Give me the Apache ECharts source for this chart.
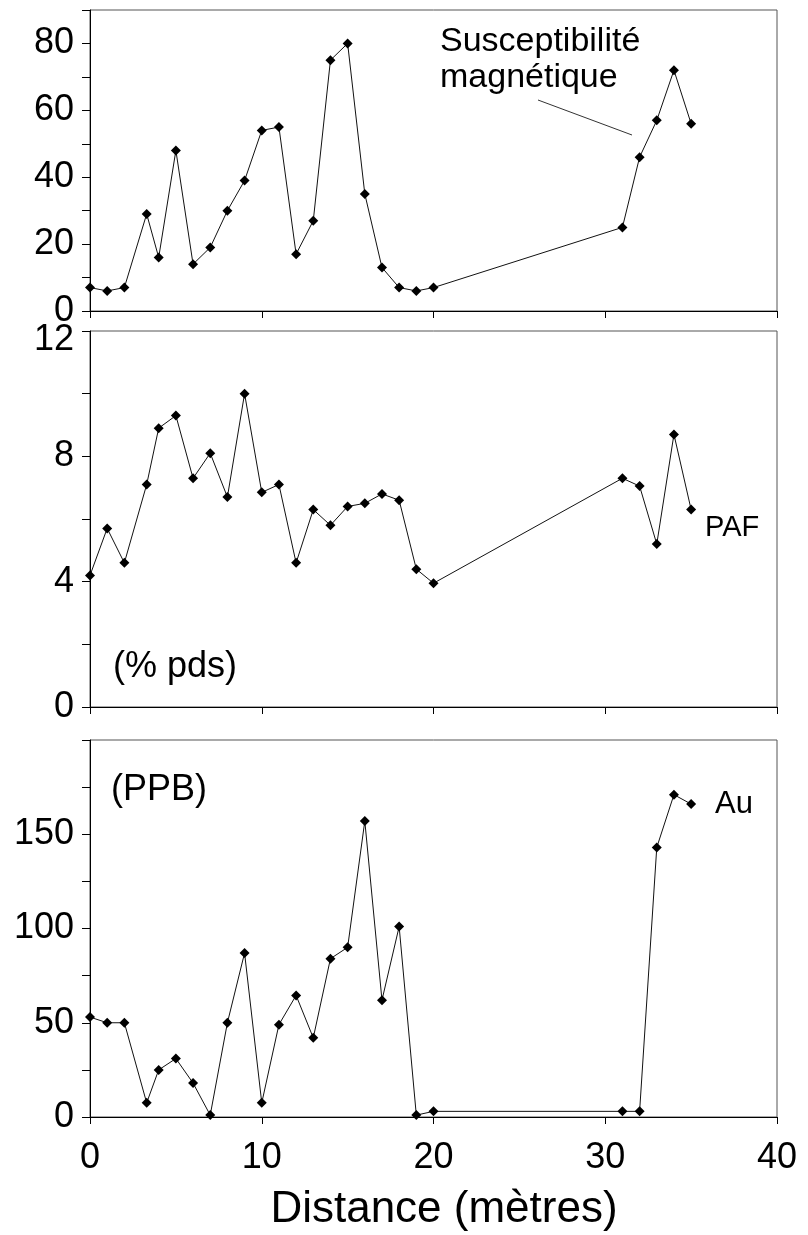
<!DOCTYPE html>
<html>
<head>
<meta charset="utf-8">
<title>Profil - distance</title>
<script src="https://cdn.jsdelivr.net/npm/echarts@6/dist/echarts.min.js"></script>
<style>html,body{margin:0;padding:0;background:#fff;}</style>
</head>
<body>
<div id="main" style="width:808px;height:1235px;"></div>
<script>
// distance le long du profil (m)
var distance = [0, 1, 2, 3.3, 4, 5, 6, 7, 8, 9, 10, 11, 12, 13, 14, 15, 16, 17, 18, 19, 20, 31, 32, 33, 34, 35];
// susceptibilite magnetique
var susceptibilite = [7, 6, 7, 29, 16, 48, 14, 19, 30, 39, 54, 55, 17, 27, 75, 80, 35, 13, 7, 6, 7, 25, 46, 57, 72, 56];
// PAF (% pds)
var paf = [4.2, 5.7, 4.6, 7.1, 8.9, 9.3, 7.3, 8.1, 6.7, 10.0, 6.85, 7.1, 4.6, 6.3, 5.8, 6.4, 6.5, 6.8, 6.6, 4.4, 3.95, 7.3, 7.05, 5.2, 8.7, 6.3];
// Au (PPB)
var au = [53, 50, 50, 7.5, 25, 31, 18, 1, 50, 87, 7.5, 49, 64.5, 42, 84, 90, 157, 62, 101, 1, 3, 3, 3, 143, 171, 166];

var FONT = 'Liberation Sans, Arial, sans-serif';

var myChart = echarts.init(document.getElementById('main'));

function pairs(ys) {
    var res = [];
    for (var i = 0; i < distance.length; i++) {
        res.push([distance[i], ys[i]]);
    }
    return res;
}

function xAxis(idx) {
    return {
        gridIndex: idx,
        type: 'value',
        min: 0, max: 40, interval: 10,
        axisLine: { show: true, onZero: false, lineStyle: { color: '#000', width: 1 } },
        axisTick: { show: true, length: 7, lineStyle: { color: '#000', width: 1 } },
        splitLine: { show: false },
        axisLabel: { show: idx === 2, margin: 23, fontSize: 36, fontFamily: FONT, color: '#000' },
        name: idx === 2 ? 'Distance (mètres)' : '',
        nameLocation: 'middle',
        nameGap: 71,
        nameTextStyle: { fontSize: 44, fontFamily: FONT, color: '#000', padding: [0, 0, 0, 21] }
    };
}

function yAxis(idx, max, interval, fmt) {
    return {
        gridIndex: idx,
        type: 'value',
        min: 0, max: max, interval: interval,
        axisLine: { show: true, lineStyle: { color: '#000', width: 1 } },
        axisTick: { show: true, length: 8, lineStyle: { color: '#000', width: 1 } },
        splitLine: { show: false },
        axisLabel: {
            margin: 16, fontSize: 36, fontFamily: FONT, color: '#000',
            formatter: fmt,
            rich: { low: { fontSize: 36, fontFamily: FONT, color: '#000', padding: [18, 0, 0, 0] } }
        }
    };
}

function serie(idx, ys) {
    return {
        type: 'line',
        xAxisIndex: idx,
        yAxisIndex: idx,
        data: pairs(ys),
        symbol: 'diamond',
        symbolSize: 10,
        showAllSymbol: true,
        clip: false,
        animation: false,
        itemStyle: { color: '#000' },
        lineStyle: { color: '#111', width: 1 }
    };
}

var gridStyle = { show: true, borderColor: '#555', borderWidth: 1, backgroundColor: 'transparent' };

option = {
    backgroundColor: '#fff',
    grid: [
        Object.assign({ left: 90, right: 31, top: 10, height: 301 }, gridStyle),
        Object.assign({ left: 90, right: 31, top: 331, height: 376 }, gridStyle),
        Object.assign({ left: 90, right: 31, top: 740, height: 377 }, gridStyle)
    ],
    xAxis: [xAxis(0), xAxis(1), xAxis(2)],
    yAxis: [
        yAxis(0, 90, 10, function (v) { return (v % 20 === 0 && v < 90) ? v : ''; }),
        yAxis(1, 12, 2, function (v) { if (v === 12) return '{low|12}'; return v % 4 === 0 ? v : ''; }),
        yAxis(2, 200, 25, function (v) { return (v % 50 === 0 && v < 200) ? v : ''; })
    ],
    series: [serie(0, susceptibilite), serie(1, paf), serie(2, au)],
    graphic: [
        { type: 'text', x: 440, y: 42, style: { text: 'Susceptibilité', fontSize: 34, fontFamily: FONT, fill: '#000', align: 'left', verticalAlign: 'middle' } },
        { type: 'text', x: 440, y: 78, style: { text: 'magnétique', fontSize: 34, fontFamily: FONT, fill: '#000', align: 'left', verticalAlign: 'middle' } },
        { type: 'line', shape: { x1: 538, y1: 100, x2: 632, y2: 135 }, style: { stroke: '#333', lineWidth: 1 } },
        { type: 'text', x: 705, y: 528, style: { text: 'PAF', fontSize: 29, fontFamily: FONT, fill: '#000', align: 'left', verticalAlign: 'middle' } },
        { type: 'text', x: 113, y: 667, style: { text: '(% pds)', fontSize: 36, fontFamily: FONT, fill: '#000', align: 'left', verticalAlign: 'middle' } },
        { type: 'text', x: 111, y: 790, style: { text: '(PPB)', fontSize: 36, fontFamily: FONT, fill: '#000', align: 'left', verticalAlign: 'middle' } },
        { type: 'text', x: 715, y: 804, style: { text: 'Au', fontSize: 31, fontFamily: FONT, fill: '#000', align: 'left', verticalAlign: 'middle' } }
    ]
};
myChart.setOption(option);
</script>
</body>
</html>
